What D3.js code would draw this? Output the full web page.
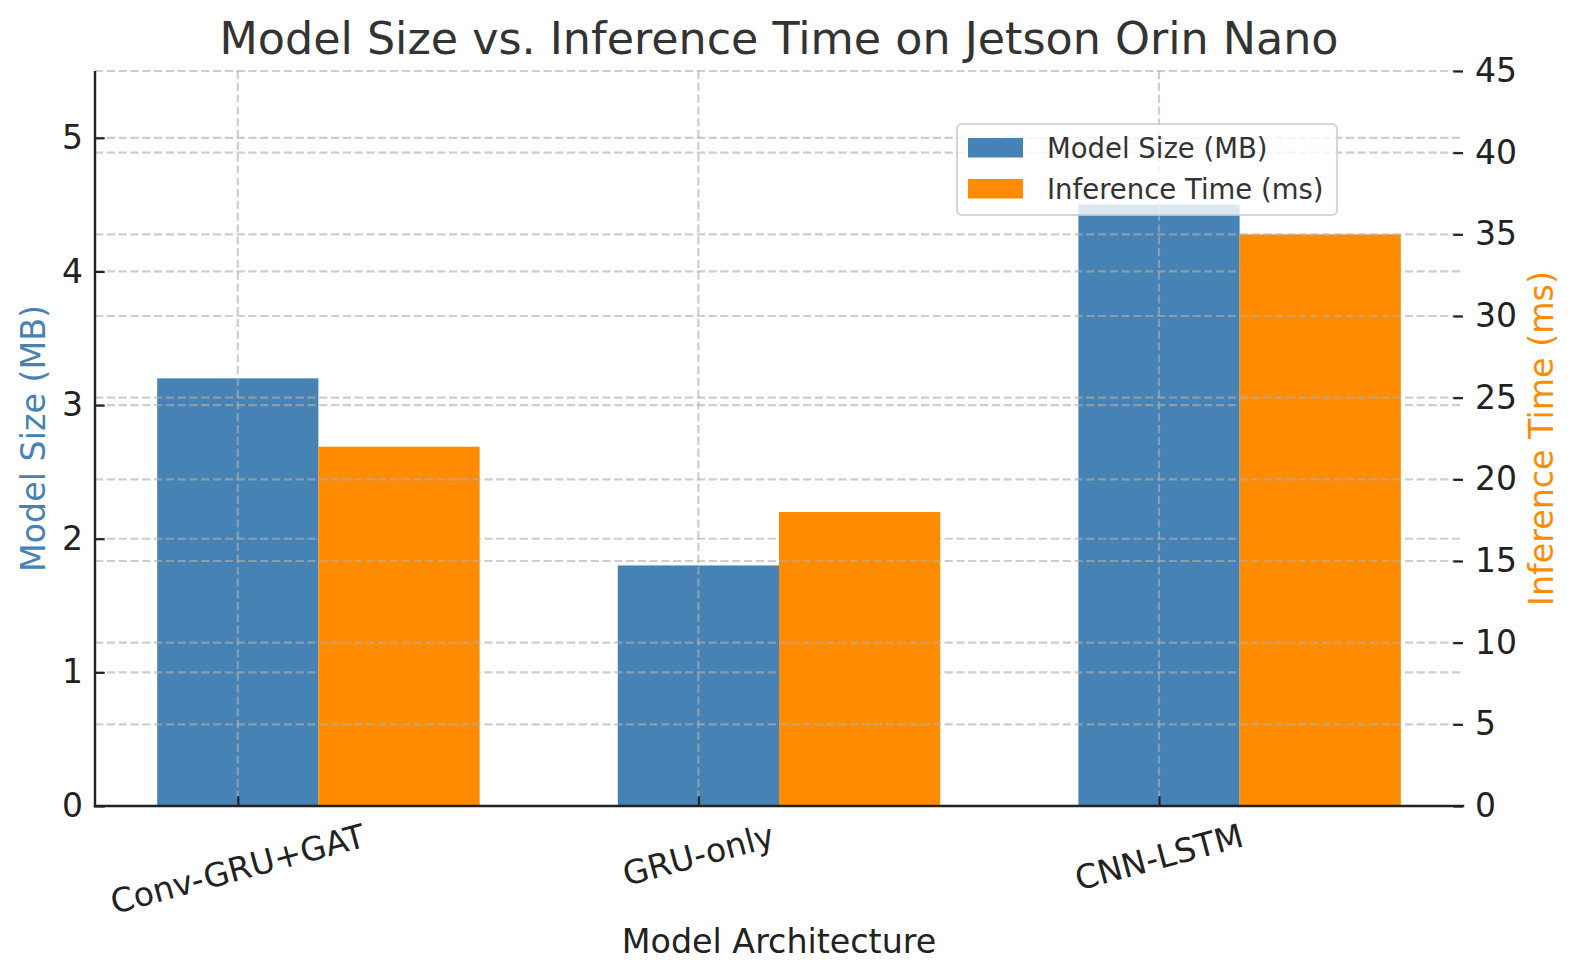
<!DOCTYPE html>
<html><head><meta charset="utf-8">
<script src="https://cdn.jsdelivr.net/npm/d3@7"></script>
<style>
body{margin:0;background:#fff}
svg{display:block}
text{font-family:"DejaVu Sans",sans-serif}
</style>
</head><body>
<svg id="c" width="1580" height="980"></svg>
<script>
const categories = ["Conv-GRU+GAT", "GRU-only", "CNN-LSTM"];
const modelSize = [3.2, 1.8, 4.5];
const inferenceTime = [22, 18, 35];
const leftTicks = [0, 1, 2, 3, 4, 5];
const rightTicks = [0, 5, 10, 15, 20, 25, 30, 35, 40, 45];
const seriesNames = ["Model Size (MB)", "Inference Time (ms)"];
const colors = ["#4682B4", "#FF8C00"];

const svg = d3.select("#c");
const m = {l: 95, r: 1463, t: 71, b: 806};
const idx = categories.map((d, i) => i);
const x = d3.scaleLinear().domain([-0.31, 2.66]).range([m.l, m.r]);
const yL = d3.scaleLinear().domain([0, 5.5]).range([m.b, m.t]);
const yR = d3.scaleLinear().domain([0, 45]).range([m.b, m.t]);
const bw = 0.35;
const gridStyle = g => g.attr("stroke", "#b0b0b0").attr("stroke-opacity", 0.62)
  .attr("stroke-width", 2.2).attr("stroke-dasharray", "8.2,3.6");

// blue bars (left axis)
svg.append("g").selectAll("rect").data(modelSize).join("rect")
  .attr("x", (d, i) => x(i - bw / 2)).attr("width", (d, i) => x(i + bw / 2) - x(i - bw / 2))
  .attr("y", d => yL(d)).attr("height", d => yL(0) - yL(d)).attr("fill", colors[0]);

// left grid + vertical grid
const g1 = svg.append("g").call(gridStyle);
g1.selectAll("line.h").data(leftTicks).join("line").attr("class", "h")
  .attr("x1", m.l).attr("x2", m.r).attr("y1", d => yL(d)).attr("y2", d => yL(d));
g1.selectAll("line.v").data(idx).join("line").attr("class", "v")
  .attr("x1", d => x(d)).attr("x2", d => x(d)).attr("y1", m.t).attr("y2", m.b);

// orange bars (right axis)
svg.append("g").selectAll("rect").data(inferenceTime).join("rect")
  .attr("x", (d, i) => x(i + bw / 2)).attr("width", (d, i) => x(i + 1.5 * bw) - x(i + bw / 2))
  .attr("y", d => yR(d)).attr("height", d => yR(0) - yR(d)).attr("fill", colors[1]);

// right grid
const g2 = svg.append("g").call(gridStyle);
g2.selectAll("line.h").data(rightTicks).join("line").attr("class", "h")
  .attr("x1", m.l).attr("x2", m.r).attr("y1", d => yR(d)).attr("y2", d => yR(d));

const tickFont = 33;
const tickColor = "#222";
function styleAxis(g) {
  g.selectAll(".tick line").attr("stroke", tickColor).attr("stroke-width", 2.2);
  g.selectAll(".tick text").attr("fill", tickColor).style("font-size", tickFont + "px")
    .style("font-family", '"DejaVu Sans", sans-serif');
}

// left axis
const axL = svg.append("g").attr("transform", `translate(${m.l},0)`)
  .call(d3.axisLeft(yL).tickValues(leftTicks).tickFormat(d3.format("d")).tickSizeInner(-9.7).tickSizeOuter(0).tickPadding(12));
axL.select(".domain").remove();
styleAxis(axL);

// right axis
const axR = svg.append("g").attr("transform", `translate(${m.r},0)`)
  .call(d3.axisRight(yR).tickValues(rightTicks).tickFormat(d3.format("d")).tickSizeInner(-9.7).tickSizeOuter(0).tickPadding(12));
axR.select(".domain").remove();
styleAxis(axR);

// bottom axis
const axB = svg.append("g").attr("transform", `translate(0,${m.b})`)
  .call(d3.axisBottom(x).tickValues(idx).tickFormat("").tickSizeInner(-9.7).tickSizeOuter(0));
axB.select(".domain").remove();
styleAxis(axB);
axB.selectAll(".tick text").remove();
idx.forEach(i => {
  const outer = svg.append("g");
  const inner = outer.append("g").attr("transform", "rotate(-15)");
  inner.append("text").attr("text-anchor", "middle").attr("dominant-baseline", "central")
    .attr("fill", tickColor).style("font-size", tickFont + "px").text(categories[i]);
  const bb = outer.node().getBBox();
  outer.attr("transform", `translate(${x(i)},${m.b + 10 - bb.y})`);
});

// spines
svg.append("line").attr("x1", m.l).attr("x2", m.l).attr("y1", m.t).attr("y2", m.b + 1.2)
  .attr("stroke", "#222").attr("stroke-width", 2.4);
svg.append("line").attr("x1", m.l - 1.2).attr("x2", m.r + 1.2).attr("y1", m.b).attr("y2", m.b)
  .attr("stroke", "#222").attr("stroke-width", 2.4);

// title and labels
const cx = (m.l + m.r) / 2, cy = (m.t + m.b) / 2;
svg.append("text").attr("x", cx).attr("y", 54).attr("text-anchor", "middle")
  .attr("fill", "#333").style("font-size", "44.4px").text("Model Size vs. Inference Time on Jetson Orin Nano");
svg.append("text").attr("x", cx).attr("y", 953).attr("text-anchor", "middle")
  .attr("fill", "#222").style("font-size", "33.3px").text("Model Architecture");
svg.append("text").attr("transform", `translate(45,${cy}) rotate(-90)`).attr("text-anchor", "middle")
  .attr("fill", colors[0]).style("font-size", "33.3px").text(seriesNames[0]);
svg.append("text").attr("transform", `translate(1553,${cy}) rotate(-90)`).attr("text-anchor", "middle")
  .attr("fill", colors[1]).style("font-size", "33.3px").text(seriesNames[1]);

// legend
const lg = svg.append("g");
lg.append("rect").attr("x", 957).attr("y", 124).attr("width", 380).attr("height", 91).attr("rx", 5)
  .attr("fill", "#fff").attr("fill-opacity", 0.8).attr("stroke", "#ccc").attr("stroke-opacity", 0.8).attr("stroke-width", 2.2);
seriesNames.forEach((s, i) => {
  lg.append("rect").attr("x", 968).attr("y", 138 + i * 41).attr("width", 55).attr("height", 19.5).attr("fill", colors[i]);
  lg.append("text").attr("x", 1047).attr("y", 158 + i * 41).attr("fill", "#333")
    .style("font-size", "27.5px").text(s);
});
</script>
</body></html>
